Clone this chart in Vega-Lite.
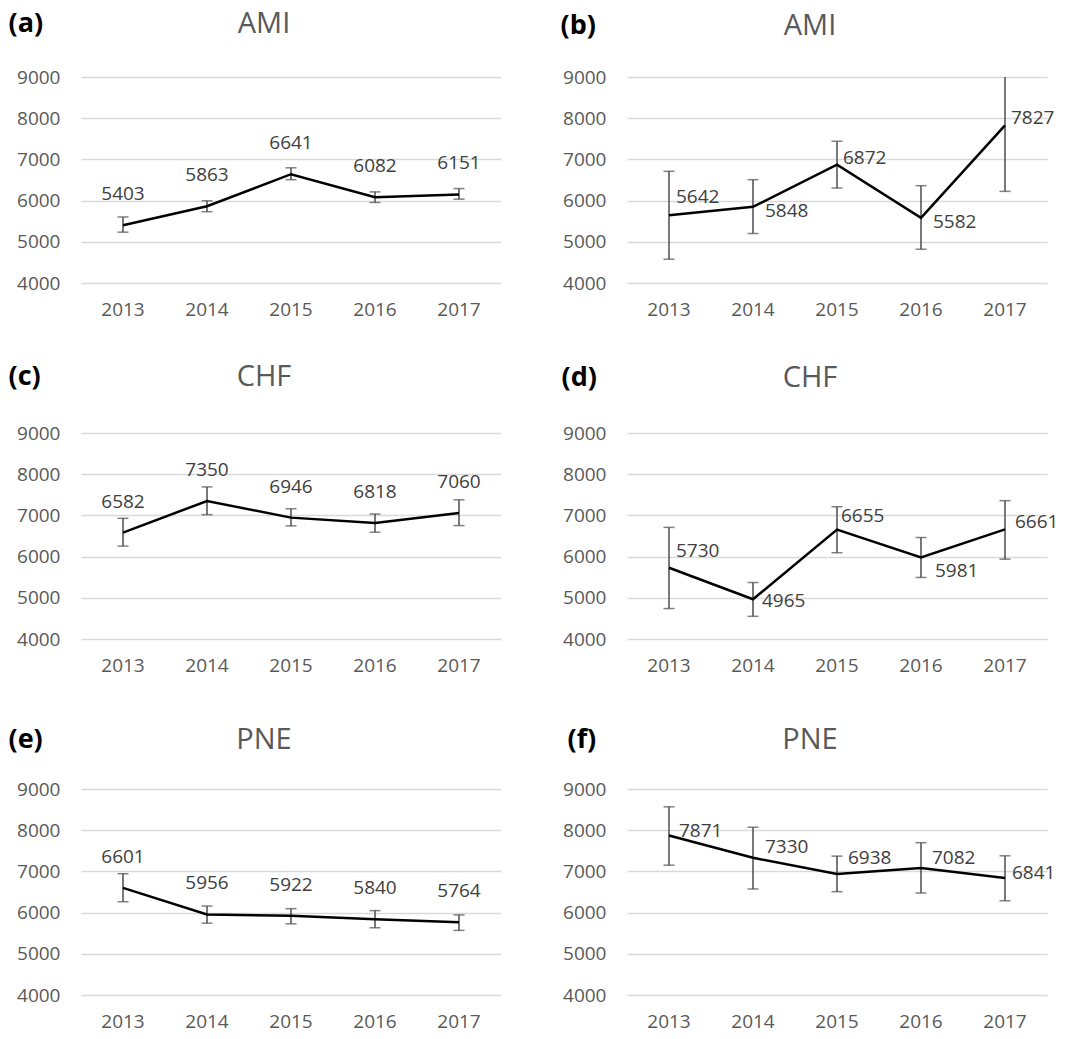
{
  "$schema": "https://vega.github.io/schema/vega-lite/v6.json",
  "padding": {"left": 8, "top": 9, "right": 5, "bottom": 5},
  "bounds": "flush",
  "columns": 2,
  "spacing": {"row": 150, "column": 126},
  "datasets": {
    "d": [
      {"panel": "a", "year": 2013, "value": 5403, "lo": 5234, "hi": 5603},
      {"panel": "a", "year": 2014, "value": 5863, "lo": 5731, "hi": 5995},
      {"panel": "a", "year": 2015, "value": 6641, "lo": 6508, "hi": 6796},
      {"panel": "a", "year": 2016, "value": 6082, "lo": 5955, "hi": 6212},
      {"panel": "a", "year": 2017, "value": 6151, "lo": 6035, "hi": 6292},
      {"panel": "b", "year": 2013, "value": 5642, "lo": 4576, "hi": 6711},
      {"panel": "b", "year": 2014, "value": 5848, "lo": 5201, "hi": 6508},
      {"panel": "b", "year": 2015, "value": 6872, "lo": 6305, "hi": 7442},
      {"panel": "b", "year": 2016, "value": 5582, "lo": 4820, "hi": 6362},
      {"panel": "b", "year": 2017, "value": 7827, "lo": 6224, "hi": 9430},
      {"panel": "c", "year": 2013, "value": 6582, "lo": 6255, "hi": 6929},
      {"panel": "c", "year": 2014, "value": 7350, "lo": 7018, "hi": 7692},
      {"panel": "c", "year": 2015, "value": 6946, "lo": 6745, "hi": 7162},
      {"panel": "c", "year": 2016, "value": 6818, "lo": 6592, "hi": 7034},
      {"panel": "c", "year": 2017, "value": 7060, "lo": 6753, "hi": 7379},
      {"panel": "d", "year": 2013, "value": 5730, "lo": 4739, "hi": 6709},
      {"panel": "d", "year": 2014, "value": 4965, "lo": 4550, "hi": 5371},
      {"panel": "d", "year": 2015, "value": 6655, "lo": 6094, "hi": 7210},
      {"panel": "d", "year": 2016, "value": 5981, "lo": 5494, "hi": 6463},
      {"panel": "d", "year": 2017, "value": 6661, "lo": 5938, "hi": 7358},
      {"panel": "e", "year": 2013, "value": 6601, "lo": 6264, "hi": 6944},
      {"panel": "e", "year": 2014, "value": 5956, "lo": 5744, "hi": 6160},
      {"panel": "e", "year": 2015, "value": 5922, "lo": 5728, "hi": 6096},
      {"panel": "e", "year": 2016, "value": 5840, "lo": 5632, "hi": 6048},
      {"panel": "e", "year": 2017, "value": 5764, "lo": 5568, "hi": 5944},
      {"panel": "f", "year": 2013, "value": 7871, "lo": 7151, "hi": 8568},
      {"panel": "f", "year": 2014, "value": 7330, "lo": 6573, "hi": 8072},
      {"panel": "f", "year": 2015, "value": 6938, "lo": 6508, "hi": 7371},
      {"panel": "f", "year": 2016, "value": 7082, "lo": 6476, "hi": 7697},
      {"panel": "f", "year": 2017, "value": 6841, "lo": 6288, "hi": 7379}
    ]
  },
  "concat": [
    {
      "width": 420, "height": 206,
      "data": {"name": "d"},
      "transform": [{"filter": "datum.panel === 'a'"}],
      "title": {"text": "AMI"},
      "encoding": {"x": {"field": "year", "type": "ordinal"}},
      "layer": [
        {"mark": {"type": "rule", "color": "#4d4d4d", "strokeWidth": 1.5, "clip": true},
         "encoding": {"y": {"field": "lo", "type": "quantitative", "scale": {"domain": [4000, 9000], "nice": false, "zero": false}, "axis": {"title": "(a)", "format": "d", "values": [4000, 5000, 6000, 7000, 8000, 9000], "titleX": -73, "titleY": -40}}, "y2": {"field": "hi"}}},
        {"mark": {"type": "tick", "color": "#4d4d4d", "thickness": 1.5, "size": 11, "clip": true}, "encoding": {"y": {"field": "lo", "type": "quantitative"}}},
        {"mark": {"type": "tick", "color": "#4d4d4d", "thickness": 1.5, "size": 11, "clip": true}, "encoding": {"y": {"field": "hi", "type": "quantitative"}}},
        {"mark": {"type": "line", "color": "#000000", "strokeWidth": 2.5}, "encoding": {"y": {"field": "value", "type": "quantitative"}}},
        {"mark": {"type": "text", "fontSize": 19, "color": "#404040", "baseline": "alphabetic", "dy": -25}, "encoding": {"y": {"field": "value", "type": "quantitative"}, "text": {"field": "value", "type": "quantitative", "format": "d"}}}
      ]
    },
    {
      "width": 420, "height": 206,
      "data": {"name": "d"},
      "transform": [{"filter": "datum.panel === 'b'"}],
      "title": {"text": "AMI"},
      "encoding": {"x": {"field": "year", "type": "ordinal"}},
      "layer": [
        {"mark": {"type": "rule", "color": "#4d4d4d", "strokeWidth": 1.5, "clip": true},
         "encoding": {"y": {"field": "lo", "type": "quantitative", "scale": {"domain": [4000, 9000], "nice": false, "zero": false}, "axis": {"title": "(b)", "format": "d", "values": [4000, 5000, 6000, 7000, 8000, 9000], "titleX": -67, "titleY": -38}}, "y2": {"field": "hi"}}},
        {"mark": {"type": "tick", "color": "#4d4d4d", "thickness": 1.5, "size": 11, "clip": true}, "encoding": {"y": {"field": "lo", "type": "quantitative"}}},
        {"mark": {"type": "tick", "color": "#4d4d4d", "thickness": 1.5, "size": 11, "clip": true}, "encoding": {"y": {"field": "hi", "type": "quantitative"}}},
        {"mark": {"type": "line", "color": "#000000", "strokeWidth": 2.5}, "encoding": {"y": {"field": "value", "type": "quantitative"}}},
        {"transform": [{"filter": {"field": "year", "oneOf": [2013]}}], "mark": {"type": "text", "fontSize": 19, "color": "#404040", "align": "left", "baseline": "alphabetic", "dx": 7, "dy": -12}, "encoding": {"y": {"field": "value", "type": "quantitative"}, "text": {"field": "value", "type": "quantitative", "format": "d"}}},
        {"transform": [{"filter": {"field": "year", "oneOf": [2015, 2017]}}], "mark": {"type": "text", "fontSize": 19, "color": "#404040", "align": "left", "baseline": "alphabetic", "dx": 6, "dy": -1}, "encoding": {"y": {"field": "value", "type": "quantitative"}, "text": {"field": "value", "type": "quantitative", "format": "d"}}},
        {"transform": [{"filter": {"field": "year", "oneOf": [2014, 2016]}}], "mark": {"type": "text", "fontSize": 19, "color": "#404040", "align": "left", "baseline": "alphabetic", "dx": 12, "dy": 10}, "encoding": {"y": {"field": "value", "type": "quantitative"}, "text": {"field": "value", "type": "quantitative", "format": "d"}}}
      ]
    },
    {
      "width": 420, "height": 206,
      "data": {"name": "d"},
      "transform": [{"filter": "datum.panel === 'c'"}],
      "title": {"text": "CHF"},
      "encoding": {"x": {"field": "year", "type": "ordinal"}},
      "layer": [
        {"mark": {"type": "rule", "color": "#4d4d4d", "strokeWidth": 1.5, "clip": true},
         "encoding": {"y": {"field": "lo", "type": "quantitative", "scale": {"domain": [4000, 9000], "nice": false, "zero": false}, "axis": {"title": "(c)", "format": "d", "values": [4000, 5000, 6000, 7000, 8000, 9000], "titleX": -73, "titleY": -43}}, "y2": {"field": "hi"}}},
        {"mark": {"type": "tick", "color": "#4d4d4d", "thickness": 1.5, "size": 11, "clip": true}, "encoding": {"y": {"field": "lo", "type": "quantitative"}}},
        {"mark": {"type": "tick", "color": "#4d4d4d", "thickness": 1.5, "size": 11, "clip": true}, "encoding": {"y": {"field": "hi", "type": "quantitative"}}},
        {"mark": {"type": "line", "color": "#000000", "strokeWidth": 2.5}, "encoding": {"y": {"field": "value", "type": "quantitative"}}},
        {"mark": {"type": "text", "fontSize": 19, "color": "#404040", "baseline": "alphabetic", "dy": -25}, "encoding": {"y": {"field": "value", "type": "quantitative"}, "text": {"field": "value", "type": "quantitative", "format": "d"}}}
      ]
    },
    {
      "width": 420, "height": 206,
      "data": {"name": "d"},
      "transform": [{"filter": "datum.panel === 'd'"}],
      "title": {"text": "CHF"},
      "encoding": {"x": {"field": "year", "type": "ordinal"}},
      "layer": [
        {"mark": {"type": "rule", "color": "#4d4d4d", "strokeWidth": 1.5, "clip": true},
         "encoding": {"y": {"field": "lo", "type": "quantitative", "scale": {"domain": [4000, 9000], "nice": false, "zero": false}, "axis": {"title": "(d)", "format": "d", "values": [4000, 5000, 6000, 7000, 8000, 9000], "titleX": -66, "titleY": -42}}, "y2": {"field": "hi"}}},
        {"mark": {"type": "tick", "color": "#4d4d4d", "thickness": 1.5, "size": 11, "clip": true}, "encoding": {"y": {"field": "lo", "type": "quantitative"}}},
        {"mark": {"type": "tick", "color": "#4d4d4d", "thickness": 1.5, "size": 11, "clip": true}, "encoding": {"y": {"field": "hi", "type": "quantitative"}}},
        {"mark": {"type": "line", "color": "#000000", "strokeWidth": 2.5}, "encoding": {"y": {"field": "value", "type": "quantitative"}}},
        {"transform": [{"filter": {"field": "year", "oneOf": [2013]}}], "mark": {"type": "text", "fontSize": 19, "color": "#404040", "align": "left", "baseline": "alphabetic", "dx": 7, "dy": -11}, "encoding": {"y": {"field": "value", "type": "quantitative"}, "text": {"field": "value", "type": "quantitative", "format": "d"}}},
        {"transform": [{"filter": {"field": "year", "oneOf": [2015]}}], "mark": {"type": "text", "fontSize": 19, "color": "#404040", "align": "left", "baseline": "alphabetic", "dx": 4, "dy": -8}, "encoding": {"y": {"field": "value", "type": "quantitative"}, "text": {"field": "value", "type": "quantitative", "format": "d"}}},
        {"transform": [{"filter": {"field": "year", "oneOf": [2017]}}], "mark": {"type": "text", "fontSize": 19, "color": "#404040", "align": "left", "baseline": "alphabetic", "dx": 10, "dy": -1}, "encoding": {"y": {"field": "value", "type": "quantitative"}, "text": {"field": "value", "type": "quantitative", "format": "d"}}},
        {"transform": [{"filter": {"field": "year", "oneOf": [2014]}}], "mark": {"type": "text", "fontSize": 19, "color": "#404040", "align": "left", "baseline": "alphabetic", "dx": 9, "dy": 8}, "encoding": {"y": {"field": "value", "type": "quantitative"}, "text": {"field": "value", "type": "quantitative", "format": "d"}}},
        {"transform": [{"filter": {"field": "year", "oneOf": [2016]}}], "mark": {"type": "text", "fontSize": 19, "color": "#404040", "align": "left", "baseline": "alphabetic", "dx": 14, "dy": 20}, "encoding": {"y": {"field": "value", "type": "quantitative"}, "text": {"field": "value", "type": "quantitative", "format": "d"}}}
      ]
    },
    {
      "width": 420, "height": 206,
      "data": {"name": "d"},
      "transform": [{"filter": "datum.panel === 'e'"}],
      "title": {"text": "PNE"},
      "encoding": {"x": {"field": "year", "type": "ordinal"}},
      "layer": [
        {"mark": {"type": "rule", "color": "#4d4d4d", "strokeWidth": 1.5, "clip": true},
         "encoding": {"y": {"field": "lo", "type": "quantitative", "scale": {"domain": [4000, 9000], "nice": false, "zero": false}, "axis": {"title": "(e)", "format": "d", "values": [4000, 5000, 6000, 7000, 8000, 9000], "titleX": -73, "titleY": -36}}, "y2": {"field": "hi"}}},
        {"mark": {"type": "tick", "color": "#4d4d4d", "thickness": 1.5, "size": 11, "clip": true}, "encoding": {"y": {"field": "lo", "type": "quantitative"}}},
        {"mark": {"type": "tick", "color": "#4d4d4d", "thickness": 1.5, "size": 11, "clip": true}, "encoding": {"y": {"field": "hi", "type": "quantitative"}}},
        {"mark": {"type": "line", "color": "#000000", "strokeWidth": 2.5}, "encoding": {"y": {"field": "value", "type": "quantitative"}}},
        {"mark": {"type": "text", "fontSize": 19, "color": "#404040", "baseline": "alphabetic", "dy": -25}, "encoding": {"y": {"field": "value", "type": "quantitative"}, "text": {"field": "value", "type": "quantitative", "format": "d"}}}
      ]
    },
    {
      "width": 420, "height": 206,
      "data": {"name": "d"},
      "transform": [{"filter": "datum.panel === 'f'"}],
      "title": {"text": "PNE"},
      "encoding": {"x": {"field": "year", "type": "ordinal"}},
      "layer": [
        {"mark": {"type": "rule", "color": "#4d4d4d", "strokeWidth": 1.5, "clip": true},
         "encoding": {"y": {"field": "lo", "type": "quantitative", "scale": {"domain": [4000, 9000], "nice": false, "zero": false}, "axis": {"title": "(f)", "format": "d", "values": [4000, 5000, 6000, 7000, 8000, 9000], "titleX": -60, "titleY": -36}}, "y2": {"field": "hi"}}},
        {"mark": {"type": "tick", "color": "#4d4d4d", "thickness": 1.5, "size": 11, "clip": true}, "encoding": {"y": {"field": "lo", "type": "quantitative"}}},
        {"mark": {"type": "tick", "color": "#4d4d4d", "thickness": 1.5, "size": 11, "clip": true}, "encoding": {"y": {"field": "hi", "type": "quantitative"}}},
        {"mark": {"type": "line", "color": "#000000", "strokeWidth": 2.5}, "encoding": {"y": {"field": "value", "type": "quantitative"}}},
        {"transform": [{"filter": {"field": "year", "oneOf": [2013]}}], "mark": {"type": "text", "fontSize": 19, "color": "#404040", "align": "left", "baseline": "alphabetic", "dx": 10, "dy": 1}, "encoding": {"y": {"field": "value", "type": "quantitative"}, "text": {"field": "value", "type": "quantitative", "format": "d"}}},
        {"transform": [{"filter": {"field": "year", "oneOf": [2014]}}], "mark": {"type": "text", "fontSize": 19, "color": "#404040", "align": "left", "baseline": "alphabetic", "dx": 12, "dy": -5}, "encoding": {"y": {"field": "value", "type": "quantitative"}, "text": {"field": "value", "type": "quantitative", "format": "d"}}},
        {"transform": [{"filter": {"field": "year", "oneOf": [2015]}}], "mark": {"type": "text", "fontSize": 19, "color": "#404040", "align": "left", "baseline": "alphabetic", "dx": 11, "dy": -10}, "encoding": {"y": {"field": "value", "type": "quantitative"}, "text": {"field": "value", "type": "quantitative", "format": "d"}}},
        {"transform": [{"filter": {"field": "year", "oneOf": [2016]}}], "mark": {"type": "text", "fontSize": 19, "color": "#404040", "align": "left", "baseline": "alphabetic", "dx": 11, "dy": -4}, "encoding": {"y": {"field": "value", "type": "quantitative"}, "text": {"field": "value", "type": "quantitative", "format": "d"}}},
        {"transform": [{"filter": {"field": "year", "oneOf": [2017]}}], "mark": {"type": "text", "fontSize": 19, "color": "#404040", "align": "left", "baseline": "alphabetic", "dx": 7, "dy": 1}, "encoding": {"y": {"field": "value", "type": "quantitative"}, "text": {"field": "value", "type": "quantitative", "format": "d"}}}
      ]
    }
  ],
  "config": {
    "font": "Open Sans",
    "view": {"stroke": null},
    "axisY": {"grid": true, "gridColor": "#d9d9d9", "gridWidth": 1.3, "domain": false, "ticks": false, "labelFontSize": 19, "labelColor": "#595959", "labelPadding": 21, "titleAngle": 0, "titleAlign": "left", "titleBaseline": "bottom", "titleFontSize": 27, "titleFontWeight": "bold", "titleColor": "#000000", "titleFont": "Open Sans"},
    "axisX": {"domain": false, "ticks": false, "grid": false, "labelFontSize": 19, "labelColor": "#595959", "labelPadding": 17, "labelAngle": 0, "title": null},
    "title": {"fontSize": 29, "fontWeight": "normal", "color": "#595959", "font": "Open Sans", "frame": "group", "dx": -27, "offset": -30, "baseline": "alphabetic"}
  }
}
